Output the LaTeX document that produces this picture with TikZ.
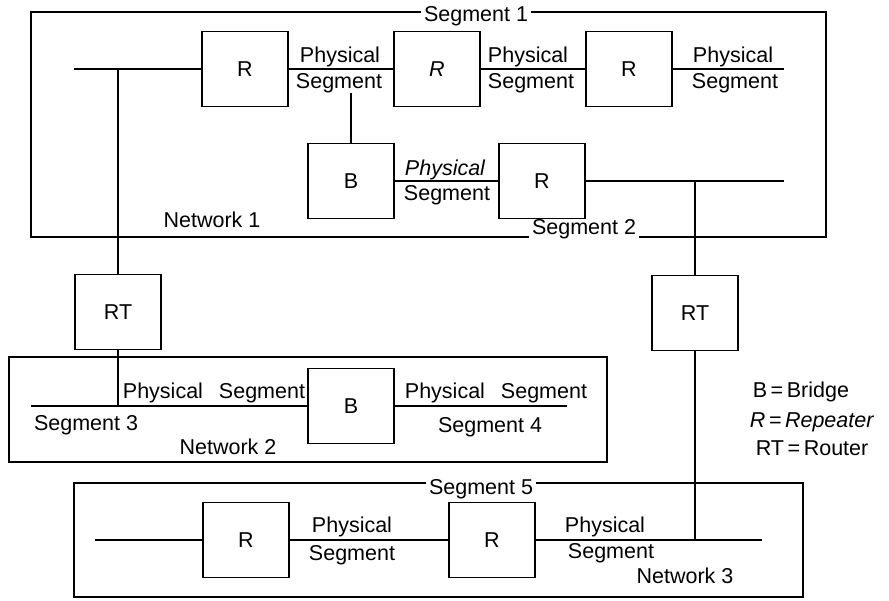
\documentclass[tikz,border=0pt]{standalone}
\usepackage{fontspec}
\setmainfont{Liberation Sans}

\begin{document}
\begin{tikzpicture}[x=1pt,y=-1pt,line width=1.6pt,font=\fontsize{21.5pt}{25pt}\selectfont]
\tikzstyle{dev}=[rectangle,draw,minimum width=86pt,minimum height=75pt,inner sep=0pt]
\tikzstyle{lbl}=[inner sep=0pt,anchor=base]
\tikzstyle{seg}=[fill=white,inner sep=3pt,anchor=base]
\tikzstyle{net}=[draw,line width=2pt]
\tikzstyle{wire}=[line width=2.2pt]
\tikzstyle{link}=[line width=1.5pt]
\useasboundingbox (0,0) rectangle (889,600);

\draw[net] (31,12) rectangle (826,237);
\draw[net] (9,357) rectangle (607,462);
\draw[net] (74,483) rectangle (803,597);

\node[seg](S1) at (476,21) {Segment 1};
\node[seg](S2) at (584,234) {Segment 2};
\node[seg](S5) at (481,494) {Segment 5};

\node[dev](R1) at (245,69) {R};
\node[dev](R2) at (437,69) {\itshape R};
\node[dev](R3) at (629,69) {R};
\node[dev](B1) at (351,181) {B};
\node[dev](R4) at (542,181) {R};
\node[dev](RT1) at (118,312) {RT};
\node[dev](RT2) at (695,313) {RT};
\node[dev](B2) at (351,406) {B};
\node[dev](R5) at (246,540) {R};
\node[dev](R6) at (492,540) {R};

\node[lbl](P1) at (340,62) {Physical};
\node[lbl](G1) at (339,88) {Segment};
\node[lbl](P2) at (528,62) {Physical};
\node[lbl](G2) at (531,88) {Segment};
\node[lbl](P3) at (733,62) {Physical};
\node[lbl](G3) at (735,88) {Segment};
\node[lbl](P4) at (445,175) {\itshape Physical};
\node[lbl](G4) at (447,200) {Segment};
\node[lbl](N1) at (212,227) {Network 1};
\node[lbl](PS3) at (214,398) {Physical\hspace{16pt}Segment};
\node[lbl](PS4) at (496,398) {Physical\hspace{16pt}Segment};
\node[lbl](S3) at (86,430) {Segment 3};
\node[lbl](S4) at (490,432) {Segment 4};
\node[lbl](N2) at (228,454) {Network 2};
\node[lbl](P5) at (352,532) {Physical};
\node[lbl](G5) at (352,560) {Segment};
\node[lbl](P6) at (605,532) {Physical};
\node[lbl](G6) at (611,558) {Segment};
\node[lbl](N3) at (685,583) {Network 3};

\node[lbl,anchor=base west](L1) at (752,397) {B\,=\,Bridge};
\node[lbl,anchor=base west](L2) at (749,427) {\itshape R\,=\,Repeater};
\node[lbl,anchor=base west](L3) at (755,455) {RT\,=\,Router};

\coordinate (a1) at (74,69);
\coordinate (a2) at (784,69);
\coordinate (a3) at (118,69);
\coordinate (b1) at (784,181);
\coordinate (b2) at (695,181);
\coordinate (c1) at (31,406);
\coordinate (c2) at (567,406);
\coordinate (c3) at (118,406);
\coordinate (d1) at (95,540);
\coordinate (d2) at (762,540);
\coordinate (d3) at (695,540);

\draw[wire] (a1) -- (R1.west) (R1.east) -- (R2.west) (R2.east) -- (R3.west) (R3.east) -- (a2);
\draw[wire] (B1.east) -- (R4.west) (R4.east) -- (b1);
\draw[wire] (c1) -- (B2.west) (B2.east) -- (c2);
\draw[wire] (d1) -- (R5.west) (R5.east) -- (R6.west) (R6.east) -- (d2);

\draw[link] (a3) -- (RT1.north) (RT1.south) -- (c3);
\draw[link] (B1.north) -- (B1.north |- G1.south);
\draw[link] (b2) -- (RT2.north) (RT2.south) -- (d3);
\end{tikzpicture}
\end{document}
